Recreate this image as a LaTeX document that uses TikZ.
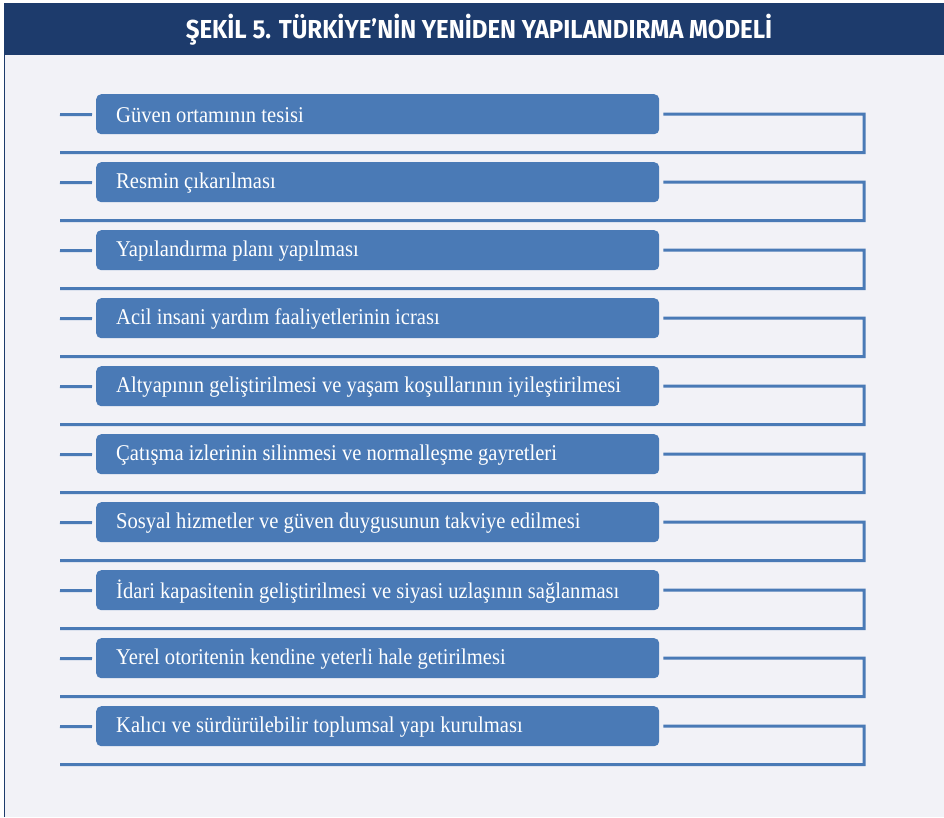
\documentclass[tikz,border=0pt]{standalone}
\usepackage{fontspec}
\setmainfont{Liberation Serif}
\newfontfamily\titlefont{Fira Sans}
\definecolor{bgpanel}{HTML}{F2F2F7}
\definecolor{navy}{HTML}{1D3B6C}
\definecolor{boxblue}{HTML}{4A7AB6}
\begin{document}
\begin{tikzpicture}[x=1pt,y=-1pt,
  stepbox/.style={fill=boxblue,rounded corners=5pt,minimum width=563pt,minimum height=40pt,anchor=north west,inner sep=0pt},
  steptext/.style={text=white,font=\fontsize{22.5}{24}\selectfont,anchor=west,inner sep=0pt,xscale=0.915,transform shape},
  conn/.style={draw=boxblue,line width=3pt}]
\useasboundingbox (0,0) rectangle (944,817);
\fill[white] (0,0) rectangle (944,817);
\fill[bgpanel] (4,55) rectangle (944,817);
\draw[navy,line width=1pt] (4.5,55) -- (4.5,817);
\fill[navy] (4,3) rectangle (944,55);
\node[text=white,font=\titlefont\bfseries\fontsize{26}{28}\selectfont,xscale=0.925,transform shape] (title) at (479,30) {ŞEKİL 5. TÜRKİYE’NİN YENİDEN YAPILANDIRMA MODELİ};
\foreach \i/\t in {1/Güven ortamının tesisi,
  2/Resmin çıkarılması,
  3/Yapılandırma planı yapılması,
  4/Acil insani yardım faaliyetlerinin icrası,
  5/Altyapının geliştirilmesi ve yaşam koşullarının iyileştirilmesi,
  6/Çatışma izlerinin silinmesi ve normalleşme gayretleri,
  7/Sosyal hizmetler ve güven duygusunun takviye edilmesi,
  8/İdari kapasitenin geliştirilmesi ve siyasi uzlaşının sağlanması,
  9/Yerel otoritenin kendine yeterli hale getirilmesi,
  10/Kalıcı ve sürdürülebilir toplumsal yapı kurulması}{
  \pgfmathsetmacro{\yy}{94+68*(\i-1)}
  \node[stepbox] (b\i) at (96,\yy) {};
  \node[steptext] (t\i) at ([xshift=20pt,yshift=-1pt]b\i.west) {\t};
  \coordinate (l\i) at (60,\yy+20.5);
  \coordinate (c\i) at (864,\yy+20);
  \coordinate (e\i) at (60,\yy+58.5);
  \draw[conn] (l\i) -- ([xshift=-4pt,yshift=-0.5pt]b\i.west);
  \draw[conn] ([xshift=4pt]b\i.east) -- (c\i) |- (e\i);
}
\end{tikzpicture}
\end{document}
